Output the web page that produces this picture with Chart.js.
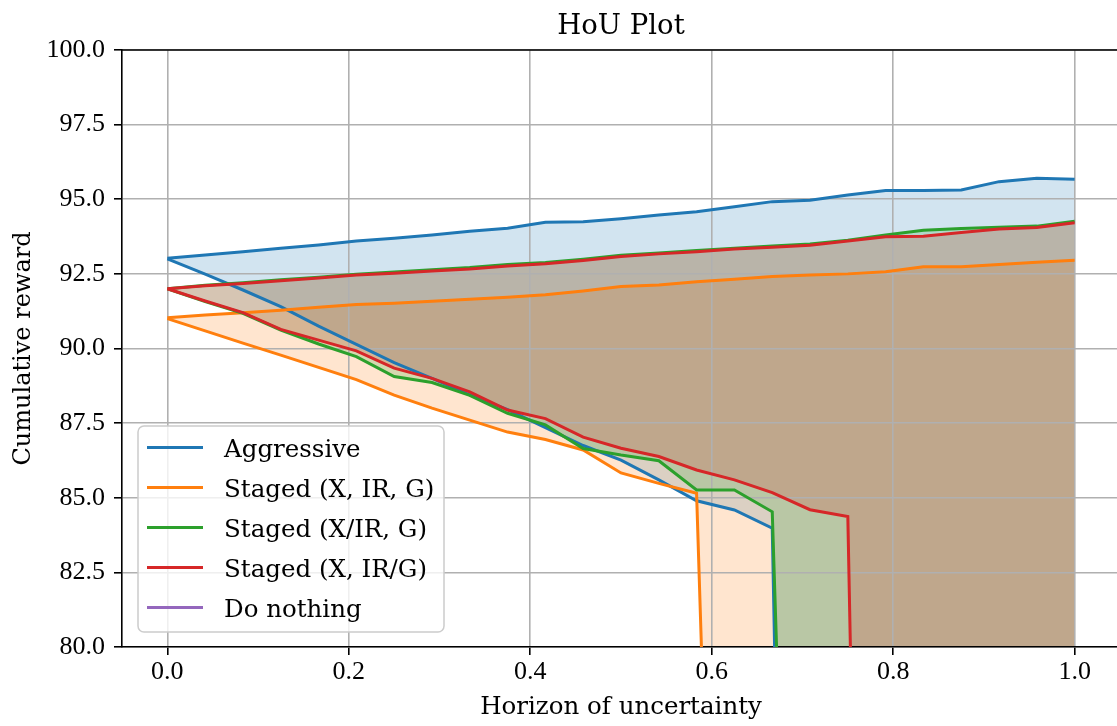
<!DOCTYPE html>
<html>
<head>
<meta charset="utf-8">
<title>HoU Plot</title>
<script src="https://cdn.jsdelivr.net/npm/chart.js@4.4.0/dist/chart.umd.min.js"></script>
<style>
  html, body { margin: 0; padding: 0; background: #fff; overflow: hidden; }
  #wrap { width: 1125px; height: 726px; }
</style>
</head>
<body>
<div id="wrap"><canvas id="houChart" width="1125" height="726"></canvas></div>
<script>
// horizon of uncertainty (x) and tick labels
const hou = [0, 0.0417, 0.0833, 0.125, 0.1667, 0.2083, 0.25, 0.2917, 0.3333, 0.375, 0.4167, 0.4583,
             0.5, 0.5417, 0.5833, 0.625, 0.6667, 0.7083, 0.75, 0.7917, 0.8333, 0.875, 0.9167, 0.9583, 1.0];
const xTicks = [0, 0.2, 0.4, 0.6, 0.8, 1.0];
const yTicks = [80, 82.5, 85, 87.5, 90, 92.5, 95, 97.5, 100];

const seriesNames = ['Aggressive', 'Staged (X, IR, G)', 'Staged (X/IR, G)', 'Staged (X, IR/G)', 'Do nothing'];
const lineColors = ['#1f77b4', '#ff7f0e', '#2ca02c', '#d62728', '#9467bd'];
const fillColors = ['rgba(31,119,180,0.2)', 'rgba(255,127,14,0.2)', 'rgba(44,160,44,0.2)', 'rgba(214,39,40,0.2)', 'rgba(148,103,189,0.2)'];

// upper / lower cumulative reward per strategy
const aggressiveUpper = [93.02, 93.13, 93.24, 93.36, 93.47, 93.6, 93.69, 93.8, 93.93, 94.03, 94.23, 94.25,
                         94.35, 94.47, 94.58, 94.75, 94.92, 94.97, 95.14, 95.29, 95.29, 95.31, 95.59, 95.7, 95.67];
const aggressiveLower = [93.0, 92.49, 91.96, 91.4, 90.75, 90.14, 89.53, 89.0, 88.45, 87.95, 87.35, 86.75,
                         86.26, 85.6, 84.9, 84.59, 83.98, 20, 20, 20, 20, 20, 20, 20, 20];
const stagedAUpper = [91.03, 91.12, 91.2, 91.28, 91.38, 91.47, 91.52, 91.58, 91.65, 91.72, 91.8, 91.93,
                      92.08, 92.13, 92.24, 92.32, 92.41, 92.46, 92.5, 92.57, 92.74, 92.74, 92.81, 92.89, 92.96];
const stagedALower = [91.0, 90.59, 90.18, 89.78, 89.37, 88.96, 88.44, 88.0, 87.6, 87.2, 86.95, 86.6,
                      85.83, 85.48, 85.15, 45, 45, 45, 45, 45, 45, 45, 45, 45, 45];
const stagedBUpper = [92.0, 92.12, 92.2, 92.3, 92.39, 92.49, 92.56, 92.64, 92.71, 92.81, 92.88, 92.99,
                      93.12, 93.2, 93.28, 93.36, 93.43, 93.5, 93.63, 93.8, 93.96, 94.02, 94.06, 94.1, 94.26];
const stagedBLower = [92.0, 91.57, 91.18, 90.62, 90.15, 89.73, 89.06, 88.86, 88.43, 87.83, 87.44, 86.65,
                      86.43, 86.24, 85.26, 85.26, 84.53, 45, 45, 45, 45, 45, 45, 45, 45];
const stagedCUpper = [92.0, 92.1, 92.18, 92.27, 92.36, 92.46, 92.52, 92.6, 92.66, 92.76, 92.84, 92.95,
                      93.08, 93.17, 93.24, 93.33, 93.39, 93.46, 93.6, 93.74, 93.76, 93.89, 94.0, 94.05, 94.21];
const stagedCLower = [92.0, 91.59, 91.2, 90.64, 90.28, 89.92, 89.34, 89.0, 88.55, 87.94, 87.65, 87.03,
                      86.66, 86.38, 85.93, 85.6, 85.17, 84.6, 84.37, 20, 20, 20, 20, 20, 20];
// do nothing stays below the visible range
const doNothingUpper = [];
const doNothingLower = [];

const uppers = [aggressiveUpper, stagedAUpper, stagedBUpper, stagedCUpper, doNothingUpper];
const lowers = [aggressiveLower, stagedALower, stagedBLower, stagedCLower, doNothingLower];

const pts = arr => arr.map((y, i) => ({ x: hou[i], y: y }));

const lineW = 3;
const datasets = [];
seriesNames.forEach((name, s) => {
    datasets.push({
        label: name,
        data: pts(uppers[s]),
        borderColor: lineColors[s],
        backgroundColor: fillColors[s],
        borderWidth: lineW,
        fill: '+1',
        order: 10 - s
    });
    datasets.push({
        label: name + ' lower',
        isLower: true,
        data: pts(lowers[s]),
        borderColor: lineColors[s],
        backgroundColor: fillColors[s],
        borderWidth: lineW,
        fill: false,
        order: 10 - s
    });
});

const serif = 'DejaVu Serif';
const tickFont = 'Liberation Serif';

// title, top/right spines and the legend box
const houDecor = {
    id: 'houDecor',
    afterDraw(chart) {
        const ctx = chart.ctx;
        const a = chart.chartArea;
        ctx.save();
        ctx.strokeStyle = '#000';
        ctx.lineWidth = 1.6;
        ctx.beginPath();
        ctx.moveTo(a.left, a.top);
        ctx.lineTo(a.right, a.top);
        ctx.lineTo(a.right, a.bottom);
        ctx.stroke();

        ctx.fillStyle = '#000';
        ctx.font = '27.5px "' + serif + '"';
        ctx.textAlign = 'center';
        ctx.textBaseline = 'alphabetic';
        ctx.fillText('HoU Plot', (a.left + a.right) / 2, 34);

        // legend
        const bx = 138, by = 426, bw = 306, bh = 206, r = 6;
        ctx.beginPath();
        ctx.moveTo(bx + r, by);
        ctx.arcTo(bx + bw, by, bx + bw, by + bh, r);
        ctx.arcTo(bx + bw, by + bh, bx, by + bh, r);
        ctx.arcTo(bx, by + bh, bx, by, r);
        ctx.arcTo(bx, by, bx + bw, by, r);
        ctx.closePath();
        ctx.fillStyle = 'rgba(255,255,255,0.8)';
        ctx.fill();
        ctx.strokeStyle = '#cccccc';
        ctx.lineWidth = 1.5;
        ctx.stroke();

        const shown = chart.data.datasets.filter(d => !d.isLower);
        ctx.font = '24.5px "' + serif + '"';
        ctx.textAlign = 'left';
        shown.forEach((d, i) => {
            const y = 447.5 + i * 40;
            ctx.strokeStyle = d.borderColor;
            ctx.lineWidth = lineW;
            ctx.beginPath();
            ctx.moveTo(147, y);
            ctx.lineTo(203, y);
            ctx.stroke();
            ctx.fillStyle = '#000';
            ctx.fillText(d.label, 224, y + 9);
        });
        ctx.restore();
    }
};

new Chart(document.getElementById('houChart').getContext('2d'), {
    type: 'line',
    data: { datasets: datasets },
    plugins: [houDecor],
    options: {
        responsive: false,
        animation: false,
        layout: { padding: { left: 0, top: 50, right: 5, bottom: 0 } },
        elements: {
            point: { radius: 0 },
            line: { borderWidth: lineW, tension: 0 }
        },
        plugins: {
            legend: { display: false },
            title: { display: false },
            tooltip: { enabled: false },
            filler: { drawTime: 'beforeDraw' }
        },
        scales: {
            x: {
                type: 'linear',
                min: -0.05,
                max: 1.05,
                afterBuildTicks: s => { s.ticks = xTicks.map(v => ({ value: v })); },
                afterFit: s => { s.height = 79; s.paddingLeft = 0; s.paddingRight = 0; },
                ticks: {
                    callback: v => v.toFixed(1),
                    font: { family: tickFont, size: 26 },
                    color: '#000',
                    padding: 2,
                    maxRotation: 0,
                    autoSkip: false
                },
                grid: { color: '#b0b0b0', lineWidth: 1.6, tickColor: '#000', tickLength: 8, tickWidth: 1.6 },
                border: { color: '#000', width: 1.6 },
                title: {
                    display: true,
                    text: 'Horizon of uncertainty',
                    font: { family: serif, size: 24.5 },
                    color: '#000',
                    padding: { top: 0, bottom: 4 }
                }
            },
            y: {
                min: 80,
                max: 100,
                afterBuildTicks: s => { s.ticks = yTicks.map(v => ({ value: v })); },
                afterFit: s => { s.width = 122; s.paddingTop = 0; s.paddingBottom = 0; },
                ticks: {
                    callback: v => v.toFixed(1),
                    font: { family: tickFont, size: 26 },
                    color: '#000',
                    padding: 9,
                    autoSkip: false
                },
                grid: { color: '#b0b0b0', lineWidth: 1.6, tickColor: '#000', tickLength: 8, tickWidth: 1.6 },
                border: { color: '#000', width: 1.6 },
                title: {
                    display: true,
                    text: 'Cumulative reward',
                    font: { family: serif, size: 24 },
                    color: '#000',
                    padding: { top: 9, bottom: 0 }
                }
            }
        }
    }
});
</script>
</body>
</html>
